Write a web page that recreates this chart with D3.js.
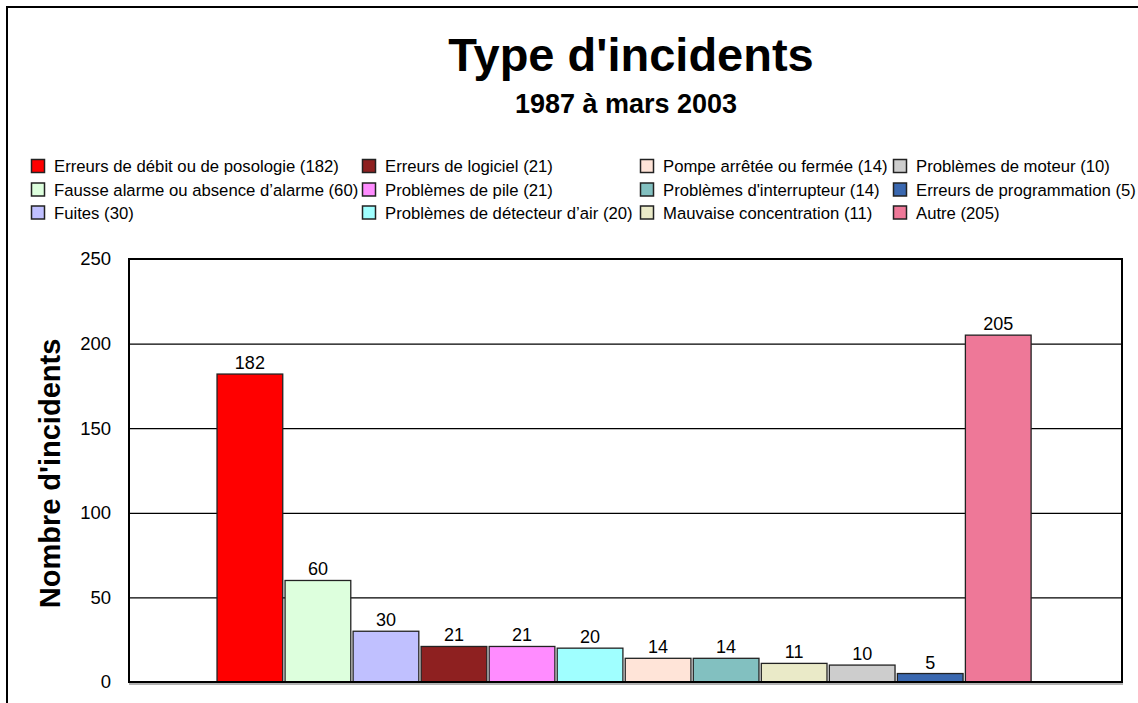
<!DOCTYPE html>
<html>
<head>
<meta charset="utf-8">
<script src="https://cdn.jsdelivr.net/npm/d3@7"></script>
<style>
  body { margin: 0; background: #fff; }
  text { font-family: "Liberation Sans", Arial, sans-serif; fill: #000; }
</style>
</head>
<body>
<div id="vis"></div>
<script>
// data
var categories = ["Erreurs de débit ou de posologie", "Fausse alarme ou absence d’alarme", "Fuites",
  "Erreurs de logiciel", "Problèmes de pile", "Problèmes de détecteur d’air",
  "Pompe arrêtée ou fermée", "Problèmes d'interrupteur", "Mauvaise concentration",
  "Problèmes de moteur", "Erreurs de programmation", "Autre"];
var values = [182, 60, 30, 21, 21, 20, 14, 14, 11, 10, 5, 205];
var colors = ["#ff0000", "#ddffdd", "#c0c0ff", "#8e2020", "#ff8cff", "#a0ffff",
  "#ffe4d8", "#82c0c0", "#eaeac8", "#cdcdcd", "#3a68b0", "#ee7898"];
var yTicks = [0, 50, 100, 150, 200, 250];

var width = 1138, height = 703;
var margin = {top: 259, right: 16, bottom: 21, left: 129}; // plot area

var svg = d3.select("#vis").append("svg")
  .attr("width", width)
  .attr("height", height);

// outer frame of the chart area (runs off the right/bottom of the picture)
svg.append("rect")
  .attr("x", 7).attr("y", 7)
  .attr("width", width + 20).attr("height", height + 20)
  .attr("fill", "none")
  .attr("stroke", "#000")
  .attr("stroke-width", 2);

// titles
svg.append("text")
  .attr("x", 631).attr("y", 71)
  .attr("text-anchor", "middle")
  .style("font-size", "47px").style("font-weight", "bold")
  .text("Type d'incidents");

svg.append("text")
  .attr("x", 626).attr("y", 113)
  .attr("text-anchor", "middle")
  .style("font-size", "27px").style("font-weight", "bold")
  .text("1987 à mars 2003");

// legend, 4 columns x 3 rows, filled column by column
var legendCols = [31, 362, 640, 893];
var legendRows = [166, 189.5, 212.5];
var legendRectSize = 13;

var legend = svg.append("g").attr("class", "legend")
  .selectAll("g")
  .data(categories)
  .enter().append("g")
  .attr("transform", function(d, i) {
    return "translate(" + legendCols[Math.floor(i / 3)] + "," + legendRows[i % 3] + ")";
  });

legend.append("rect")
  .attr("x", 0.5).attr("y", -legendRectSize / 2)
  .attr("width", legendRectSize).attr("height", legendRectSize)
  .attr("fill", function(d, i) { return colors[i]; })
  .attr("stroke", "#222")
  .attr("stroke-width", 1.5);

legend.append("text")
  .attr("x", 23).attr("y", 0)
  .attr("dy", "0.36em")
  .style("font-size", "16.7px")
  .text(function(d, i) { return d + " (" + values[i] + ")"; });

// scales
var x0 = margin.left, x1 = width - margin.right;
var y0 = height - margin.bottom, y1 = margin.top;

var xScale = d3.scaleBand()
  .domain(categories)
  .range([x0, x1])
  .paddingInner(0.034)
  .paddingOuter(1.315)
  .align(0.492);

var yScale = d3.scaleLinear()
  .domain([0, 250])
  .range([y0, y1]);

// gridlines
svg.append("g")
  .attr("class", "grid")
  .attr("transform", "translate(" + x0 + ",0)")
  .call(d3.axisLeft(yScale).tickValues(yTicks.slice(1, -1)).tickSize(-(x1 - x0)).tickFormat(""))
  .call(function(g) { g.select(".domain").remove(); })
  .call(function(g) { g.selectAll("line").attr("stroke", "#000").attr("stroke-width", 1.2); });

// y axis labels
svg.append("g")
  .attr("class", "y axis")
  .attr("transform", "translate(" + x0 + ",0)")
  .call(d3.axisLeft(yScale).tickValues(yTicks).tickSize(0).tickPadding(18))
  .call(function(g) { g.select(".domain").remove(); })
  .call(function(g) {
    g.selectAll("text")
      .attr("fill", "#000")
      .style("font-size", "18.5px")
      .style("font-family", "'Liberation Sans', Arial, sans-serif");
  });

// axis title
svg.append("text")
  .attr("transform", "translate(60," + ((y0 + y1) / 2 + 3) + ") rotate(-90)")
  .attr("text-anchor", "middle")
  .style("font-size", "29px").style("font-weight", "bold")
  .text("Nombre d'incidents");

// bars
svg.append("g").selectAll("rect")
  .data(values)
  .enter().append("rect")
  .attr("x", function(d, i) { return xScale(categories[i]); })
  .attr("y", function(d) { return yScale(d); })
  .attr("width", xScale.bandwidth())
  .attr("height", function(d) { return y0 - yScale(d); })
  .attr("fill", function(d, i) { return colors[i]; })
  .attr("stroke", "#222")
  .attr("stroke-width", 1.3);

// value labels
svg.append("g").selectAll("text")
  .data(values)
  .enter().append("text")
  .attr("x", function(d, i) { return xScale(categories[i]) + xScale.bandwidth() / 2; })
  .attr("y", function(d) { return yScale(d) - 5; })
  .attr("text-anchor", "middle")
  .style("font-size", "18px")
  .text(function(d) { return d; });

// plot frame, with a light shadow under the base line
svg.append("line")
  .attr("x1", x0).attr("x2", x1 + 1)
  .attr("y1", y0 + 2).attr("y2", y0 + 2)
  .attr("stroke", "#999").attr("stroke-width", 1.5);
svg.append("rect")
  .attr("x", x0).attr("y", y1)
  .attr("width", x1 - x0).attr("height", y0 - y1)
  .attr("fill", "none")
  .attr("stroke", "#000")
  .attr("stroke-width", 2);
</script>
</body>
</html>
